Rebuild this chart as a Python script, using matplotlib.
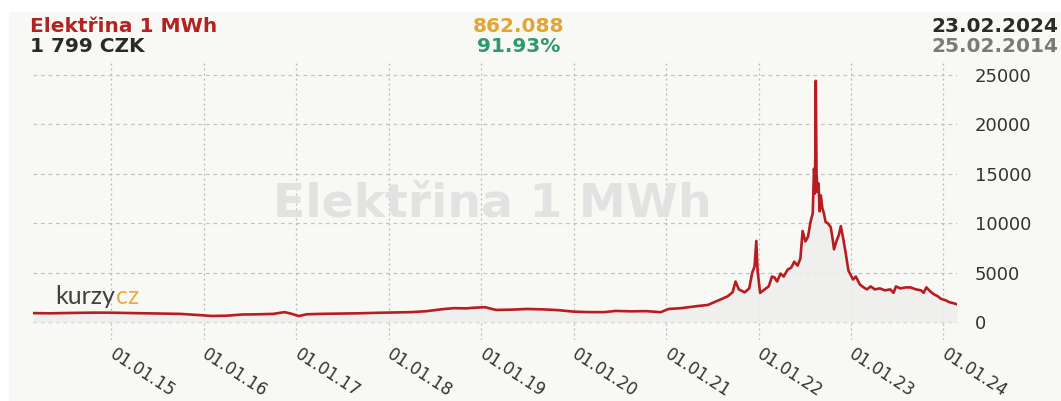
import matplotlib
matplotlib.use("Agg")
import matplotlib.pyplot as plt
import matplotlib.transforms as mtransforms
import pandas as pd
from matplotlib.patches import Rectangle

# ---- data ----
dates = [
    "2014-02-25", "2014-05-01", "2014-08-01", "2014-11-01", "2015-01-01", "2015-04-01",
    "2015-07-01", "2015-10-01", "2015-12-15", "2016-02-01", "2016-04-01", "2016-06-01",
    "2016-08-01", "2016-10-01", "2016-11-15", "2016-12-10", "2017-01-10", "2017-02-10",
    "2017-04-01", "2017-06-15", "2017-09-01", "2017-11-15", "2018-02-01", "2018-04-01",
    "2018-06-01", "2018-08-01", "2018-09-15", "2018-11-01", "2018-12-10", "2019-01-15",
    "2019-03-01", "2019-05-01", "2019-07-01", "2019-09-01", "2019-11-01", "2020-01-01",
    "2020-03-01", "2020-05-01", "2020-06-15", "2020-08-15", "2020-10-15", "2020-12-10",
    "2021-01-10", "2021-03-01", "2021-05-01", "2021-06-15", "2021-08-01", "2021-09-01",
    "2021-09-20", "2021-10-02", "2021-10-15", "2021-11-07", "2021-11-25", "2021-12-07",
    "2021-12-16", "2021-12-23", "2021-12-28", "2022-01-07", "2022-01-25", "2022-02-10",
    "2022-02-23", "2022-03-05", "2022-03-15", "2022-03-29", "2022-04-10", "2022-04-26",
    "2022-05-10", "2022-05-22", "2022-06-04", "2022-06-15", "2022-06-24", "2022-07-05",
    "2022-07-15", "2022-07-25", "2022-08-03", "2022-08-08", "2022-08-12", "2022-08-15",
    "2022-08-18", "2022-08-22", "2022-08-26", "2022-08-30", "2022-09-04", "2022-09-10",
    "2022-09-16", "2022-09-23", "2022-10-01", "2022-10-13", "2022-10-20", "2022-10-26",
    "2022-11-05", "2022-11-14", "2022-11-22", "2022-12-01", "2022-12-11", "2022-12-22",
    "2023-01-09", "2023-01-20", "2023-02-05", "2023-02-20", "2023-03-05", "2023-03-20",
    "2023-04-05", "2023-04-25", "2023-05-15", "2023-06-05", "2023-06-18", "2023-06-28",
    "2023-07-15", "2023-08-05", "2023-08-24", "2023-09-15", "2023-10-05", "2023-10-15",
    "2023-10-26", "2023-11-10", "2023-11-25", "2023-12-10", "2023-12-22", "2024-01-10",
    "2024-01-25", "2024-02-10", "2024-02-23",
]
prices = [
    900, 880, 920, 950, 940, 900,
    860, 820, 700, 610, 640, 760,
    780, 820, 1000, 850, 600, 780,
    820, 850, 880, 930, 970, 1000,
    1100, 1300, 1400, 1380, 1450, 1500,
    1220, 1250, 1320, 1280, 1200, 1050,
    1000, 1000, 1120, 1080, 1100, 990,
    1320, 1400, 1600, 1730, 2250, 2600,
    3000, 4100, 3300, 3000, 3400, 5000,
    5600, 8200, 5200, 2950, 3300, 3600,
    4600, 4500, 4100, 4900, 4600, 5300,
    5500, 6100, 5700, 6400, 9200, 8150,
    8600, 10100, 11000, 15500, 13000, 24400,
    15000, 13200, 14000, 11200, 12800, 11500,
    11000, 10100, 10000, 9600, 8500, 7350,
    8200, 8800, 9700, 8500, 7000, 5200,
    4300, 4600, 3800, 3500, 3300, 3600,
    3300, 3400, 3200, 3300, 2950, 3600,
    3400, 3500, 3500, 3300, 3200, 2950,
    3500, 3100, 2800, 2600, 2350, 2200,
    2000, 1900, 1799,
]
x_ticks = ["2015-01-01", "2016-01-01", "2017-01-01", "2018-01-01", "2019-01-01",
           "2020-01-01", "2021-01-01", "2022-01-01", "2023-01-01", "2024-01-01"]
x_tick_labels = ["01.01.15", "01.01.16", "01.01.17", "01.01.18", "01.01.19",
                 "01.01.20", "01.01.21", "01.01.22", "01.01.23", "01.01.24"]
y_ticks = [0, 5000, 10000, 15000, 20000, 25000]

title = "Elektřina 1 MWh"
last_price = "1 799 CZK"
index_value = "862.088"
change_pct = "91.93%"
date_last = "23.02.2024"
date_first = "25.02.2014"
logo_a = "kurzy"
logo_b = "cz"

# ---- figure ----
W, H = 1061, 401
fig = plt.figure(figsize=(W / 100, H / 100), dpi=100)
fig.patch.set_facecolor("white")
BG = "#f8f8f4"
fig.patches.append(Rectangle((9 / W, 0), 1 - 9 / W, 1 - 12 / H, transform=fig.transFigure,
                             facecolor=BG, edgecolor="none", zorder=-10))

left, right = 33, 957
top, bottom = 62, 340
ax = fig.add_axes([left / W, 1 - bottom / H, (right - left) / W, (bottom - top) / H])
ax.set_facecolor("none")

d = pd.to_datetime(dates)
ax.fill_between(d, prices, 0, color="#eeeeee", alpha=0.85, linewidth=0, zorder=1)
ax.plot(d, prices, color="#b71c22", linewidth=1.9, zorder=3, solid_joinstyle="round")

ax.set_xlim(pd.Timestamp("2014-02-25"), pd.Timestamp("2024-02-24"))
ax.set_ylim(-1820, 26300)

ax.set_xticks(pd.to_datetime(x_ticks))
ax.set_xticklabels(x_tick_labels, rotation=-33, ha="left", va="top",
                   rotation_mode="anchor", fontsize=12, color="#333333")
ax.yaxis.tick_right()
ax.set_yticks(y_ticks)
ax.set_yticklabels([str(v) for v in y_ticks], fontsize=13, color="#333333")
ax.tick_params(axis="x", length=0, pad=4)
ax.tick_params(axis="y", length=0, pad=13)
for lab in ax.get_yticklabels():
    lab.set_ha("left")
shift = mtransforms.ScaledTranslation(5 / 100, 0, fig.dpi_scale_trans)
for lab in ax.get_xticklabels():
    lab.set_transform(lab.get_transform() + shift)

for s in ax.spines.values():
    s.set_visible(False)

for yv in y_ticks:
    ax.axhline(yv, color="#c4c4c4", linewidth=0.9, linestyle=(0, (3, 3)), zorder=0)
for xv in pd.to_datetime(x_ticks):
    ax.axvline(xv, color="#b8b8b8", linewidth=0.9, linestyle=(0, (1.5, 2.5)), zorder=0)

# watermark
ax.text(0.497, 0.49, title, transform=ax.transAxes,
        fontsize=34, fontweight="bold", color="#e2e2e2", ha="center", va="center", zorder=0.5)

# logo
t1 = fig.text(55 / W, 1 - 304 / H, logo_a, fontsize=18, color="#404040",
              family=["Lato", "DejaVu Sans"], va="baseline", zorder=5)
fig.canvas.draw()
bb = t1.get_window_extent(fig.canvas.get_renderer())
fig.text(bb.x1 / W + 1 / W, 1 - 304 / H, logo_b, fontsize=18, color="#e3b044",
         family=["Lato", "DejaVu Sans"], va="baseline", zorder=5)

# header
fs = 14.5
fig.text(30 / W, 1 - 32 / H, title, fontsize=fs, fontweight="bold", color="#b22222", va="baseline")
fig.text(30 / W, 1 - 52 / H, last_price, fontsize=fs, fontweight="bold", color="#2a2a2a", va="baseline")
fig.text(519 / W, 1 - 32 / H, index_value, fontsize=fs, fontweight="bold", color="#e0a534",
         va="baseline", ha="center")
fig.text(519 / W, 1 - 52 / H, change_pct, fontsize=fs, fontweight="bold", color="#2e9a6c",
         va="baseline", ha="center")
fig.text(1058 / W, 1 - 32 / H, date_last, fontsize=fs, fontweight="bold", color="#2a2a2a",
         va="baseline", ha="right")
fig.text(1058 / W, 1 - 52 / H, date_first, fontsize=fs, fontweight="bold", color="#7a7a7a",
         va="baseline", ha="right")

fig.savefig("out.png", dpi=100, facecolor=fig.get_facecolor())
